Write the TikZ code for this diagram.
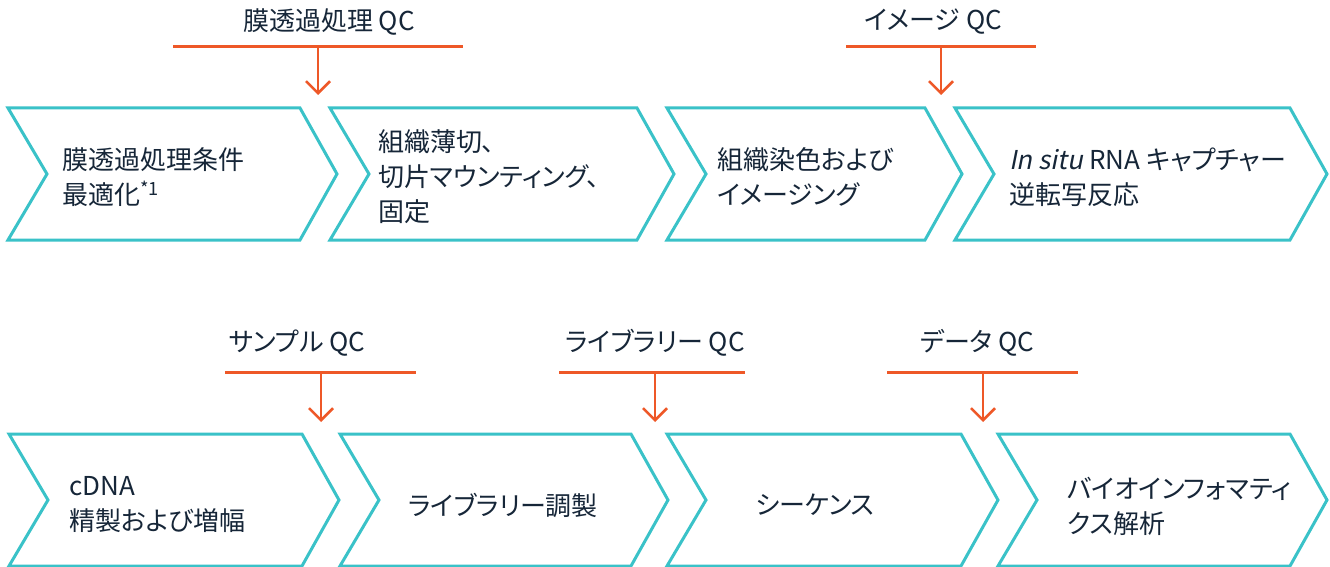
\documentclass[tikz,border=0pt]{standalone}
\usepackage{fontspec}
\usepackage{xcolor}
\usepackage{tikz}
\usetikzlibrary{arrows.meta}
\setmainfont[RawFeature=+palt,AutoFakeSlant=0.2]{Noto Sans CJK JP}
\definecolor{stepteal}{RGB}{58,194,200}
\definecolor{qcorange}{RGB}{238,88,40}
\definecolor{labelink}{RGB}{22,38,56}
% chevron: left x, top-right x, top y
\newcommand{\stepchev}[3]{%
  \draw[step box] (#1,#3) -- (#2,#3) -- ++(37,66) -- ++(-37,66) -- (#1,#3+132) -- ++(39,-66) -- cycle;}
\tikzset{
  step box/.style={draw=stepteal, line width=3pt, line join=miter},
  step text/.style={text=labelink, align=left, inner sep=0pt, font=\fontsize{26}{35}\selectfont},
  qc label/.style={text=labelink, inner sep=0pt, font=\fontsize{26}{30}\selectfont},
  qc bar/.style={draw=qcorange, line width=3pt},
  qc drop/.style={draw=qcorange, line width=2.5pt, -{Straight Barb[length=12pt,width=24pt]}},
}

\begin{document}
\begin{tikzpicture}[x=1pt,y=-1pt]
  \useasboundingbox (0,0) rectangle (1330,567);

  \stepchev{8}{300}{108}
  \stepchev{330}{637}{108}
  \stepchev{667}{925}{108}
  \stepchev{955}{1290}{108}
  \stepchev{9}{302}{434}
  \stepchev{340}{631}{434}
  \stepchev{667}{961}{434}
  \stepchev{998}{1290}{434}

  \node[step text, anchor=west] (perm) at (62,177) {膜透過処理条件\\最適化\textsuperscript{*1}};
  \node[step text, anchor=west] (sect) at (378,177) {組織薄切、\\切片マウンティング、\\固定};
  \node[step text, anchor=west] (stain) at (717,177) {組織染色および\\イメージング};
  \node[step text, anchor=west] (capt) at (1009,177) {\textit{In situ} RNA キャプチャー\\逆転写反応};
  \node[step text, anchor=west] (cdna) at (69,505) {cDNA\\精製および増幅};
  \node[step text] (lib) at (503,505) {ライブラリー調製};
  \node[step text] (seq) at (815,505) {シーケンス};
  \node[step text, anchor=west] (bioinf) at (1067,506) {バイオインフォマティ\\クス解析};

  \node[qc label] (qcperm) at (329,22) {膜透過処理 QC};
  \node[qc label] (qcimg) at (933,22) {イメージ QC};
  \node[qc label] (qcsmp) at (297,343) {サンプル QC};
  \node[qc label] (qclib) at (655,343) {ライブラリー QC};
  \node[qc label] (qcdata) at (977,343) {データ QC};

  \coordinate (permL) at (173,47);  \coordinate (permR) at (463,47);
  \coordinate (permB) at (318,47);  \coordinate (permT) at (318,95);
  \coordinate (imgL) at (846,47);   \coordinate (imgR) at (1036,47);
  \coordinate (imgB) at (941,47);   \coordinate (imgT) at (941,95);
  \coordinate (smpL) at (225,372);  \coordinate (smpR) at (416,372);
  \coordinate (smpB) at (321,372);  \coordinate (smpT) at (321,422);
  \coordinate (libL) at (559,372);  \coordinate (libR) at (745,372);
  \coordinate (libB) at (655,372);  \coordinate (libT) at (655,422);
  \coordinate (dataL) at (887,372); \coordinate (dataR) at (1078,372);
  \coordinate (dataB) at (983,372); \coordinate (dataT) at (983,422);

  \draw[qc bar] (permL) -- (permR);
  \draw[qc drop] (permB) -- (permT);
  \draw[qc bar] (imgL) -- (imgR);
  \draw[qc drop] (imgB) -- (imgT);
  \draw[qc bar] (smpL) -- (smpR);
  \draw[qc drop] (smpB) -- (smpT);
  \draw[qc bar] (libL) -- (libR);
  \draw[qc drop] (libB) -- (libT);
  \draw[qc bar] (dataL) -- (dataR);
  \draw[qc drop] (dataB) -- (dataT);

\end{tikzpicture}
\end{document}
